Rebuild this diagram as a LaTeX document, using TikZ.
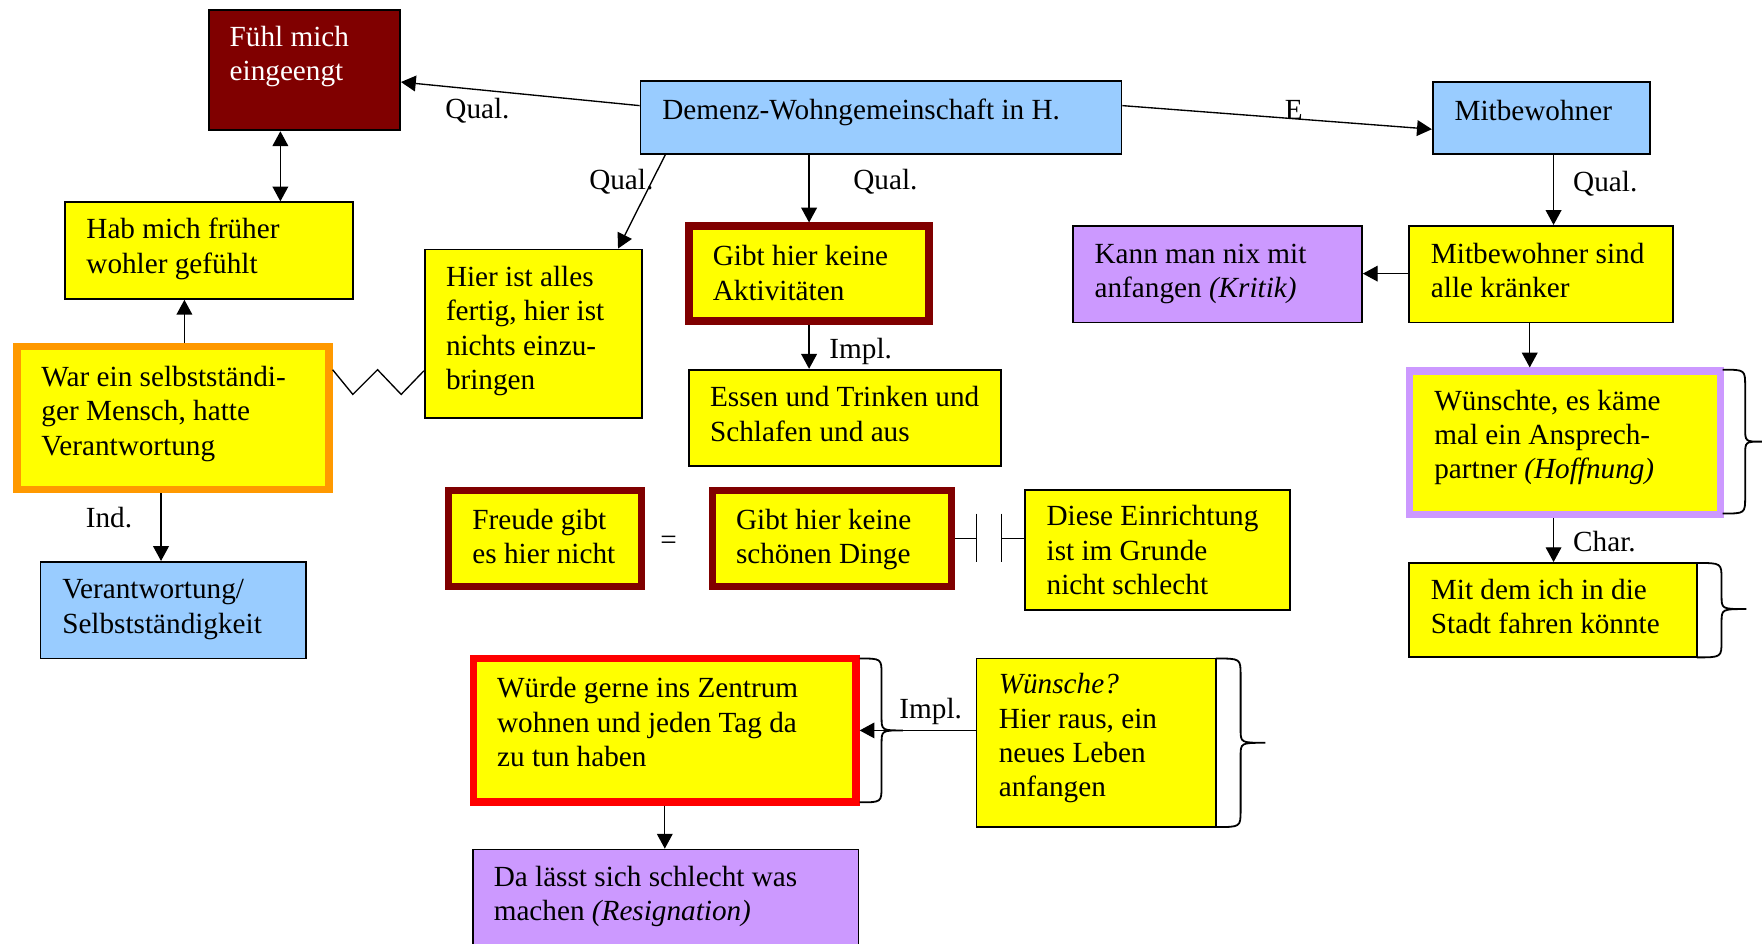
\documentclass[tikz,border=0pt]{standalone}
\usepackage{fontspec}
\setmainfont{Liberation Serif}
\usetikzlibrary{arrows.meta}

\definecolor{dkred}{HTML}{800000}
\definecolor{yel}{HTML}{FFFF00}
\definecolor{blu}{HTML}{99CCFF}
\definecolor{lil}{HTML}{CC99FF}
\definecolor{ora}{HTML}{FF9900}
\definecolor{rd}{HTML}{FF0000}

% lines of a text block; the block's baseline is that of its first line
\newcommand\blk[1]{\vtop{\baselineskip=15.25pt\lineskiplimit=-20pt\halign{##\hfil\cr#1\crcr}}}

% box node: name, style, x1, y1, x2, y2 (outer edges), inset (half border)
\newcommand\bx[7]{%
  \node[#2, minimum width={(#5-#3-2*#7)*0.5pt}, minimum height={(#6-#4-2*#7)*0.5pt}]
    (#1) at ({(#3+#5)/2},{(#4+#6)/2}) {};}

% right curly brace: x0, x1, x2, ytop, ymid, ybot
\newcommand\rbrc[6]{%
  \draw[brace] (#1,#4) .. controls (#2,#4) .. (#2,{#4+15}) -- (#2,{#5-12})
    .. controls (#2,#5) .. (#3,#5) .. controls (#2,#5) .. (#2,{#5+12})
    -- (#2,{#6-15}) .. controls (#2,#6) .. (#1,#6);}

\tikzset{
  box/.style={draw=black, line width=0.8pt, rectangle, inner sep=0pt},
  fatbox/.style={rectangle, line width=3.25pt, inner sep=0pt, fill=yel},
  ybox/.style={box, fill=yel},
  bbox/.style={box, fill=blu},
  lbox/.style={box, fill=lil},
  rbox/.style={box, fill=dkred},
  txt/.style={anchor=base west, inner sep=0pt, font=\fontsize{13pt}{15.25pt}\selectfont},
  lbl/.style={txt},
  arr/.style={line width=0.6pt, -{Triangle[length=6.6pt,width=7pt]}},
  darr/.style={line width=0.6pt, {Triangle[length=6.6pt,width=7pt]}-{Triangle[length=6.6pt,width=7pt]}},
  link/.style={line width=0.6pt},
  brace/.style={line width=0.8pt},
}

\begin{document}
\begin{tikzpicture}[x=0.5pt, y=-0.5pt]
\path[fill=white, use as bounding box] (0,0) rectangle (1568,840);

% ---- boxes ----
\bx{fuehl}{rbox}{186}{9}{356}{116}{0}
\bx{demenz}{bbox}{570}{72}{998}{137}{0}
\bx{mitbew}{bbox}{1275}{73}{1468}{137}{0}
\bx{hab}{ybox}{58}{180}{314}{266}{0}
\bx{hier}{ybox}{378}{222}{571}{372}{0}
\bx{akt}{fatbox, draw=dkred}{610}{198}{830}{289}{3.25}
\bx{essen}{ybox}{613}{329}{891}{415}{0}
\bx{kann}{lbox}{955}{201}{1212}{287}{0}
\bx{krank}{ybox}{1254}{201}{1489}{287}{0}
\bx{war}{fatbox, draw=ora}{12}{305}{296}{439}{3.25}
\bx{wuenschte}{fatbox, draw=lil}{1251}{327}{1534}{461}{3.25}
\bx{verant}{bbox}{36}{500}{272}{586}{0}
\bx{freude}{fatbox, draw=dkred}{396}{433}{574}{525}{3.25}
\bx{schoen}{fatbox, draw=dkred}{631}{433}{850}{525}{3.25}
\bx{diese}{ybox}{912}{436}{1148}{543}{0}
\bx{stadt}{ybox}{1254}{501}{1510}{585}{0}
\bx{wurde}{fatbox, draw=rd}{418}{583}{765}{717}{3.25}
\bx{wunsche}{ybox}{869}{586}{1082}{736}{0}
\bx{resig}{lbox}{421}{756}{764}{850}{0}

% ---- box texts ----
\node[txt, text=white] (fuehl-t) at (204,41.5) {\blk{Fühl mich\cr eingeengt}};
\node[txt] (demenz-t) at (589,106) {Demenz-Wohngemeinschaft in H.};
\node[txt] (mitbew-t) at (1294,107) {Mitbewohner};
\node[txt] (hab-t) at (76.5,212.5) {\blk{Hab mich früher\cr wohler gefühlt}};
\node[txt] (hier-t) at (396.5,255) {\blk{Hier ist alles\cr fertig, hier ist\cr nichts einzu-\cr bringen}};
\node[txt] (akt-t) at (634,236.5) {\blk{Gibt hier keine\cr Aktivitäten}};
\node[txt] (essen-t) at (631.5,362) {\blk{Essen und Trinken und\cr Schlafen und aus}};
\node[txt] (kann-t) at (973.7,234.5) {\blk{Kann man nix mit\cr anfangen \textit{(Kritik)}}};
\node[txt] (krank-t) at (1273,234.5) {\blk{Mitbewohner sind\cr alle kränker}};
\node[txt] (war-t) at (36.5,344) {\blk{War ein selbstständi-\cr ger Mensch, hatte\cr Verantwortung}};
\node[txt] (wuenschte-t) at (1276,365) {\blk{Wünschte, es käme\cr mal ein Ansprech-\cr partner \textit{(Hoffnung)}}};
\node[txt] (verant-t) at (55,533) {\blk{Verantwortung/\cr Selbstständigkeit}};
\node[txt] (freude-t) at (420,471) {\blk{Freude gibt\cr es hier nicht}};
\node[txt] (schoen-t) at (654.6,471) {\blk{Gibt hier keine\cr schönen Dinge}};
\node[txt] (diese-t) at (931,468) {\blk{Diese Einrichtung\cr ist im Grunde\cr nicht schlecht}};
\node[txt] (stadt-t) at (1273,533.5) {\blk{Mit dem ich in die\cr Stadt fahren könnte}};
\node[txt] (wurde-t) at (442,621) {\blk{Würde gerne ins Zentrum\cr wohnen und jeden Tag da\cr zu tun haben}};
\node[txt] (wunsche-t) at (888.4,617.5) {\blk{\textit{Wünsche?}\cr Hier raus, ein\cr neues Leben\cr anfangen}};
\node[txt] (resig-t) at (439,789) {\blk{Da lässt sich schlecht was\cr machen \textit{(Resignation)}}};

% ---- braces ----
\rbrc{1533}{1553}{1568}{329}{393}{457}
\rbrc{1510}{1532}{1554}{501}{542}{585}
\rbrc{765}{784.5}{803.5}{586}{650}{714}
\rbrc{1082}{1104}{1126}{586}{661}{736}

% ---- connectors ----
\draw[arr] (demenz.west |- 0,94) -- (fuehl.east |- 0,73);
\draw[arr] (demenz.east |- 0,94) -- (mitbew.west |- 0,115);
\draw[arr] (demenz.south -| 592,0) -- (hier.north -| 550,0);
\draw[arr] (demenz.south -| 720,0) -- (akt.north -| 720,0);
\draw[arr] (akt.south -| 720,0) -- (essen.north -| 720,0);
\draw[arr] (mitbew.south -| 1382.5,0) -- (krank.north -| 1382.5,0);
\draw[arr] (krank.west |- 0,243.5) -- (kann.east |- 0,243.5);
\draw[arr] (krank.south -| 1361.3,0) -- (wuenschte.north -| 1361.3,0);
\draw[arr] (wuenschte.south -| 1382.5,0) -- (stadt.north -| 1382.5,0);
\draw[darr] (fuehl.south -| 249.5,0) -- (hab.north -| 249.5,0);
\draw[arr] (war.north -| 164.1,0) -- (hab.south -| 164.1,0);
\draw[arr] (war.south -| 143.3,0) -- (verant.north -| 143.3,0);
\draw[arr] (wurde.south -| 591.6,0) -- (resig.north -| 591.6,0);
\draw[arr] (wunsche.west |- wurde.east) -- (wurde.east);
% zigzag link
\draw[link] (war.east |- 0,329) -- (314,351) -- (336,329) -- (357,351) -- (hier.west |- 0,330);
% link with the two bars
\draw[link] (schoen.east |- 0,479) -- (869,479) (869,457) -- (869,500)
  (891,457) -- (891,500) (891,479) -- (diese.west |- 0,479);

% ---- connector labels ----
\node[lbl] (l1) at (396,105.3) {Qual.};
\node[lbl] (l2) at (524,169) {Qual.};
\node[lbl] (l3) at (759,169) {Qual.};
\node[lbl] (l4) at (737.7,319) {Impl.};
\node[lbl] (l5) at (1399.6,170.8) {Qual.};
\node[lbl] (l6) at (1399.6,490.6) {Char.};
\node[lbl] (l7) at (1143,106.5) {E};
\node[lbl] (l8) at (76,469) {Ind.};
\node[lbl] (l9) at (800,639.3) {Impl.};
\node[txt, anchor=center] (eq) at (595,483) {=};
\end{tikzpicture}
\end{document}
